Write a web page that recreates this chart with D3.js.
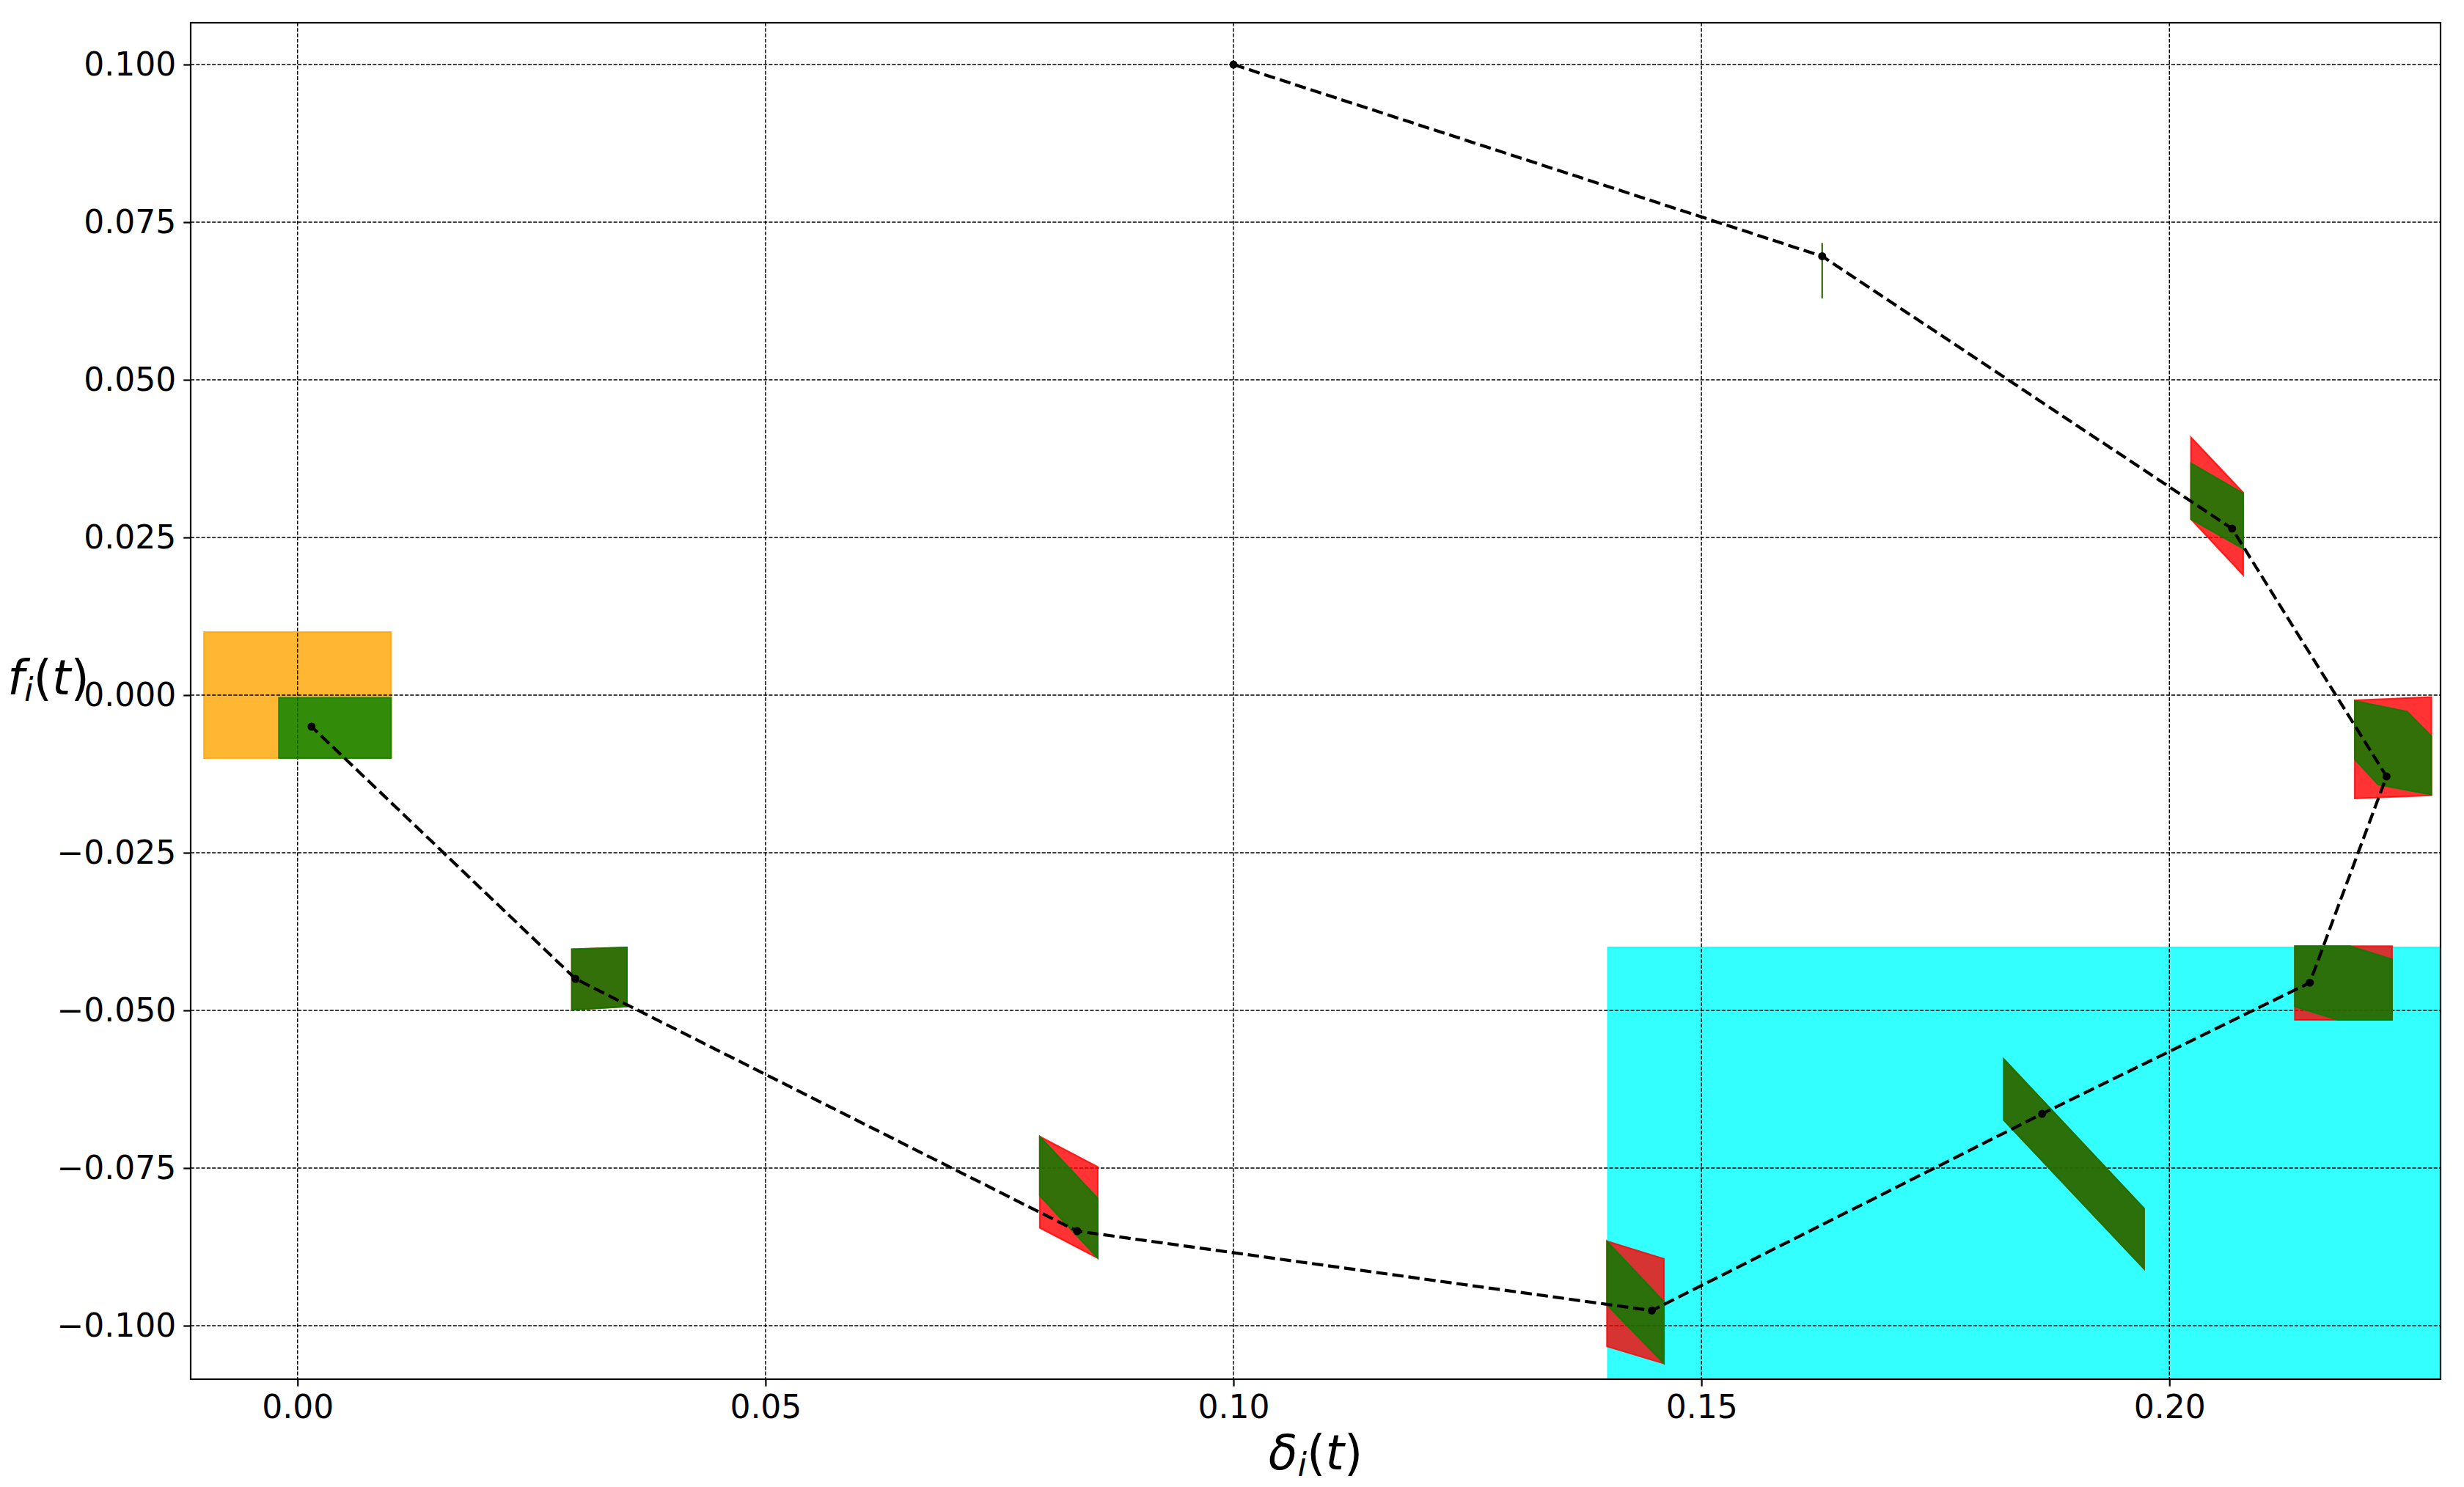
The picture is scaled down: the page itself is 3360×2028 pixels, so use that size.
<!DOCTYPE html>
<html>
<head>
<meta charset="utf-8">
<script src="https://cdn.jsdelivr.net/npm/d3@7"></script>
<style>
  html, body { margin: 0; padding: 0; background: #fff; }
  svg { display: block; font-family: "DejaVu Sans", sans-serif; }
</style>
</head>
<body>
<svg id="chart"></svg>
<script>
const width = 3360, height = 2028;
const margin = {left: 260, right: 32, top: 31, bottom: 147};

// axis ranges and ticks
const xDomain = [-0.01142, 0.22897];
const yDomain = [-0.10849, 0.10663];
const xTicks = [0, 0.05, 0.10, 0.15, 0.20];
const yTicks = [-0.1, -0.075, -0.05, -0.025, 0, 0.025, 0.05, 0.075, 0.1];

// trajectory (dashed line + dots)
const trajX = [0.1, 0.1629, 0.2067, 0.2232, 0.2150, 0.1864, 0.1447, 0.0833, 0.0297, 0.0015];
const trajY = [0.1, 0.0696, 0.0264, -0.0129, -0.0456, -0.0664, -0.0976, -0.0850, -0.0450, -0.0050];

// initial set (orange) and target set (cyan)
const initBox = [[-0.01, -0.01], [0.01, -0.01], [0.01, 0.01], [-0.01, 0.01]];
const targetBox = [[0.14, -0.12], [0.25, -0.12], [0.25, -0.04], [0.14, -0.04]];

// reach sets, red = outer, green = inner
const redSets = [
    [[0.1629, 0.0717], [0.1629, 0.0629]],
    [[0.2023, 0.0409], [0.2079, 0.0321], [0.2079, 0.0190], [0.2023, 0.0279]],
    [[0.2198, -0.0008], [0.2280, -0.0003], [0.2280, -0.0159], [0.2198, -0.0164]],
    [[0.2134, -0.0398], [0.2238, -0.0398], [0.2238, -0.0515], [0.2134, -0.0515]],
    [[0.1823, -0.0577], [0.1973, -0.0814], [0.1973, -0.0910], [0.1823, -0.0674]],
    [[0.1399, -0.0866], [0.1460, -0.0894], [0.1460, -0.1060], [0.1399, -0.1033]],
    [[0.0793, -0.0700], [0.0855, -0.0748], [0.0855, -0.0893], [0.0793, -0.0845]],
    [[0.0293, -0.0403], [0.0352, -0.0400], [0.0352, -0.0494], [0.0293, -0.0499]]
];
const greenSets = [
    [[0.1629, 0.0717], [0.1629, 0.0629]],
    [[0.2023, 0.0368], [0.2079, 0.0320], [0.2079, 0.0232], [0.2023, 0.0279]],
    [[0.2198, -0.0009], [0.2254, -0.0026], [0.2280, -0.0065], [0.2280, -0.0158], [0.2223, -0.0142], [0.2198, -0.0102]],
    [[0.2134, -0.0398], [0.2193, -0.0398], [0.2238, -0.0419], [0.2238, -0.0515], [0.2180, -0.0515], [0.2134, -0.0494]],
    [[0.1823, -0.0577], [0.1973, -0.0814], [0.1973, -0.0910], [0.1823, -0.0674]],
    [[0.1399, -0.0866], [0.1460, -0.0962], [0.1460, -0.1060], [0.1399, -0.0967]],
    [[0.0793, -0.0700], [0.0855, -0.0798], [0.0855, -0.0893], [0.0793, -0.0794]],
    [[0.0293, -0.0403], [0.0352, -0.0400], [0.0352, -0.0494], [0.0293, -0.0499]],
    [[-0.002, -0.01], [0.01, -0.01], [0.01, -0.0004], [-0.002, -0.0004]]
];

const svg = d3.select('#chart')
    .attr('width', width)
    .attr('height', height);

const x = d3.scaleLinear().domain(xDomain).range([margin.left, width - margin.right]);
const y = d3.scaleLinear().domain(yDomain).range([height - margin.bottom, margin.top]);

svg.append('clipPath').attr('id', 'plotClip')
    .append('rect')
    .attr('x', margin.left).attr('y', margin.top)
    .attr('width', width - margin.left - margin.right)
    .attr('height', height - margin.top - margin.bottom);

const plot = svg.append('g').attr('clip-path', 'url(#plotClip)');
const toPoints = pts => pts.map(p => [x(p[0]), y(p[1])].join(',')).join(' ');

function drawSet(pts, color) {
    plot.append('polygon')
        .attr('points', toPoints(pts))
        .attr('fill', color)
        .attr('fill-opacity', 0.8)
        .attr('stroke', color)
        .attr('stroke-opacity', 0.8)
        .attr('stroke-width', 2)
        .attr('stroke-linejoin', 'miter');
}

drawSet(initBox, 'orange');
drawSet(targetBox, 'cyan');

// grid
const grid = plot.append('g')
    .attr('stroke', '#000')
    .attr('stroke-width', 1.4)
    .attr('stroke-dasharray', '5.1,2.2');
grid.selectAll('.vx').data(xTicks).enter().append('line')
    .attr('x1', d => x(d)).attr('x2', d => x(d))
    .attr('y1', margin.top).attr('y2', height - margin.bottom);
grid.selectAll('.hy').data(yTicks).enter().append('line')
    .attr('y1', d => y(d)).attr('y2', d => y(d))
    .attr('x1', margin.left).attr('x2', width - margin.right);

redSets.forEach(s => drawSet(s, 'red'));
greenSets.forEach(s => drawSet(s, 'green'));

const traj = trajX.map((v, i) => [v, trajY[i]]);
plot.append('path')
    .datum(traj)
    .attr('fill', 'none')
    .attr('stroke', '#000')
    .attr('stroke-width', 4.2)
    .attr('stroke-dasharray', '15.4,6.7')
    .attr('d', d3.line().x(d => x(d[0])).y(d => y(d[1])));

plot.selectAll('circle.pt')
    .data(traj)
    .enter()
    .append('circle')
    .attr('cx', d => x(d[0]))
    .attr('cy', d => y(d[1]))
    .attr('r', 5.5)
    .attr('fill', '#000');

// axes
const xAxis = svg.append('g')
    .attr('transform', `translate(0,${height - margin.bottom})`)
    .call(d3.axisBottom(x).tickValues(xTicks).tickFormat(d3.format('.2f'))
        .tickSizeInner(9.7).tickSizeOuter(0).tickPadding(12));
const yAxis = svg.append('g')
    .attr('transform', `translate(${margin.left},0)`)
    .call(d3.axisLeft(y).tickValues(yTicks).tickFormat(d3.format('.3f'))
        .tickSizeInner(9.7).tickSizeOuter(0).tickPadding(10));

[xAxis, yAxis].forEach(a => {
    a.select('.domain').remove();
    a.selectAll('line').attr('stroke', '#000').attr('stroke-width', 2.2);
    a.selectAll('text')
        .attr('fill', '#000')
        .style('font-family', '"DejaVu Sans", sans-serif')
        .style('font-size', '44px');
});

svg.append('rect')
    .attr('x', margin.left).attr('y', margin.top)
    .attr('width', width - margin.left - margin.right)
    .attr('height', height - margin.top - margin.bottom)
    .attr('fill', 'none')
    .attr('stroke', '#000')
    .attr('stroke-width', 2.2);

// axis labels (math style)
function mathLabel(px, py, sym) {
    const t = svg.append('text')
        .attr('x', px).attr('y', py)
        .attr('text-anchor', 'middle')
        .style('font-family', '"DejaVu Sans", sans-serif')
        .style('font-size', '65px')
        .attr('fill', '#000');
    t.append('tspan').style('font-style', 'italic').text(sym);
    t.append('tspan').style('font-style', 'italic').style('font-size', '45px').attr('dy', 9).text('i');
    t.append('tspan').attr('dy', -9).text('(');
    t.append('tspan').style('font-style', 'italic').text('t');
    t.append('tspan').text(')');
}

mathLabel((margin.left + width - margin.right) / 2, 2004, 'δ');
mathLabel(66, 947, 'f');
</script>
</body>
</html>
